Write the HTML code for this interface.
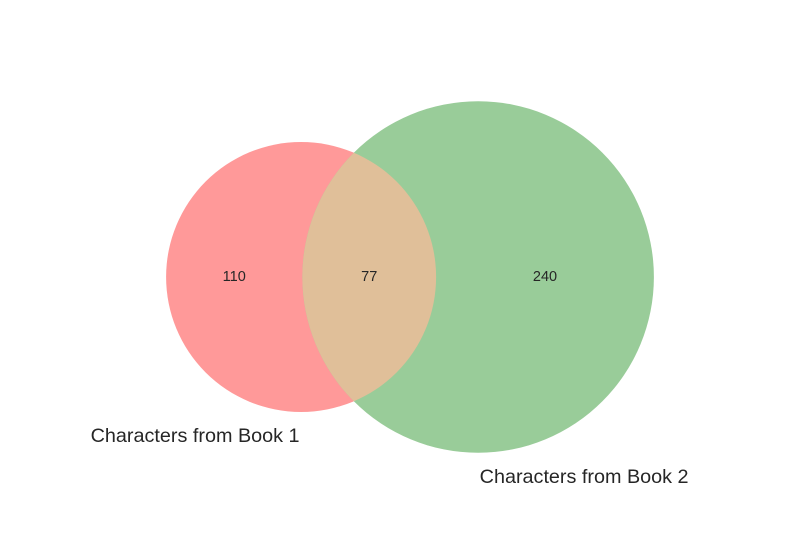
<!DOCTYPE html>
<html><head><meta charset="utf-8"><style>
html,body{margin:0;padding:0;background:#fff;}
svg{display:block;font-family:"Liberation Sans",sans-serif;}
</style></head><body>
<svg id="chart" width="800" height="550" viewBox="0 0 800 550">
<defs><clipPath id="clip1"><circle id="clipc" cx="0" cy="0" r="0"/></clipPath></defs>
<g id="g"></g>
</svg>
<script>
const setNames = ["Characters from Book 1", "Characters from Book 2"];
const regionValues = [110, 77, 240]; // only A, A∩B, only B
const NS = "http://www.w3.org/2000/svg";
const g = document.getElementById('g');
const tot1 = regionValues[0] + regionValues[1];
const tot2 = regionValues[2] + regionValues[1];
const k = 135 / Math.sqrt(187);
const r1 = k * Math.sqrt(tot1), r2 = k * Math.sqrt(tot2);
function lens(d){
  if (d >= r1 + r2) return 0;
  if (d <= Math.abs(r1 - r2)) return Math.PI * Math.min(r1, r2) ** 2;
  const a = r1*r1*Math.acos((d*d + r1*r1 - r2*r2)/(2*d*r1));
  const b = r2*r2*Math.acos((d*d + r2*r2 - r1*r1)/(2*d*r2));
  const c = 0.5*Math.sqrt((-d+r1+r2)*(d+r1-r2)*(d-r1+r2)*(d+r1+r2));
  return a + b - c;
}
const target = regionValues[1] * Math.PI * k * k;
let lo = Math.abs(r1 - r2), hi = r1 + r2;
for (let i = 0; i < 100; i++) { const m = (lo + hi) / 2; if (lens(m) > target) lo = m; else hi = m; }
const d = (lo + hi) / 2;
const cy = 277;
const left = -r1, right = d + r2;
const off = 410 - (left + right) / 2;
const cx1 = off, cx2 = off + d;
function circ(cx, r, fill, name){
  const c = document.createElementNS(NS, 'circle');
  c.setAttribute('cx', cx); c.setAttribute('cy', cy); c.setAttribute('r', r);
  c.setAttribute('fill', fill);
  
  
  g.appendChild(c); return c;
}
circ(cx1, r1, '#ff9999', 'circle-book-1');
circ(cx2, r2, '#99cc99', 'circle-book-2');
const cc = document.getElementById('clipc');
cc.setAttribute('cx', cx1); cc.setAttribute('cy', cy); cc.setAttribute('r', r1);
const ov = circ(cx2, r2, '#e0bf99', 'overlap-region');
ov.setAttribute('clip-path', 'url(#clip1)');
function txt(x, y, s, size, name){
  const t = document.createElementNS(NS, 'text');
  t.setAttribute('x', x); t.setAttribute('y', y);
  t.setAttribute('text-anchor', 'middle'); t.setAttribute('dominant-baseline', 'central');
  t.setAttribute('font-size', size); t.setAttribute('fill', '#262626');
  t.textContent = s;
  
  
  g.appendChild(t);
}
txt((cx1 - r1 + cx2 - r2) / 2, cy, regionValues[0], 14.5, 'label-only-book-1');
txt((cx2 - r2 + cx1 + r1) / 2, cy, regionValues[1], 14.5, 'label-both-books');
txt((cx1 + r1 + cx2 + r2) / 2, cy, regionValues[2], 14.5, 'label-only-book-2');
txt(cx1 - 106, cy + r1 + 24, setNames[0], 19.8, 'set-label-book-1');
txt(cx2 + 106, cy + r2 + 24, setNames[1], 19.8, 'set-label-book-2');
</script>
</body></html>
